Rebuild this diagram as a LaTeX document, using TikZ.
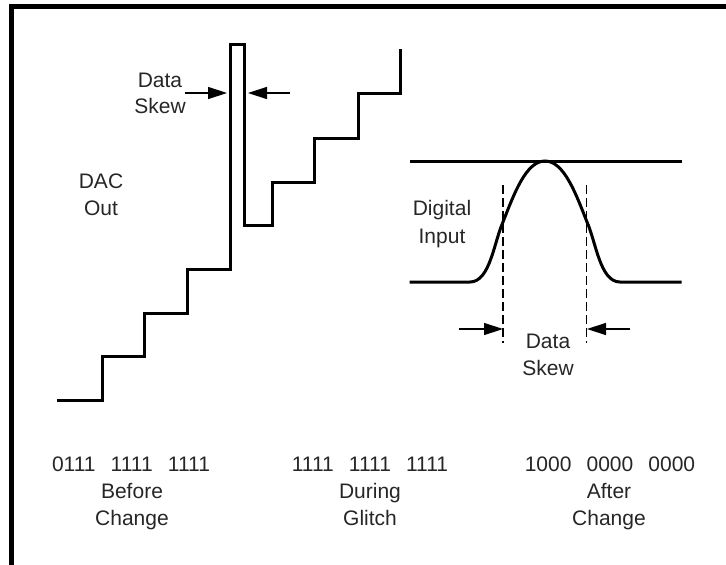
\documentclass[tikz,border=0pt]{standalone}
\usepackage{fontspec}
\setmainfont{Liberation Sans}
\usetikzlibrary{arrows.meta}
\begin{document}
\begin{tikzpicture}[x=1pt,y=-1pt,
  lbl/.style={font=\fontsize{21}{24}\selectfont, inner sep=0pt, anchor=base, text=black!85},
  wave/.style={line width=3pt, line join=miter, line cap=rect},
  frame/.style={line width=4.5pt},
  skewarrow/.style={line width=1.4pt, -{Triangle[length=19pt,width=12pt]}},
  guide/.style={line width=1.2pt, dash pattern=on 9pt off 4pt}]
\useasboundingbox (0,0) rectangle (726,565);
% frame
\draw[frame] (11.5,565) -- (11.5,6.5) -- (726,6.5);
% staircase with glitch
\draw[wave] (58,400) -- (102,400) -- (102,356) -- (144,356) -- (144,313)
  -- (187,313) -- (187,269) -- (230,269) -- (230,44) -- (244,44) -- (244,225)
  -- (272,225) -- (272,182) -- (314,182) -- (314,138) -- (358,138) -- (358,93)
  -- (400,93) -- (400,50);
% top data skew
\coordinate (a1s) at (185,93); \coordinate (a1e) at (227,93);
\coordinate (a2s) at (290,93); \coordinate (a2e) at (248,93);
\draw[skewarrow] (a1s) -- (a1e);
\draw[skewarrow] (a2s) -- (a2e);
\node[lbl] (d1) at (160,87) {Data};
\node[lbl] (s1) at (160,113) {Skew};
\node[lbl] (dac) at (101,188) {DAC};
\node[lbl] (out) at (101,215) {Out};
% digital input
\draw[wave] (411,161) -- (680,161);
\draw[wave] (411,282) -- (470,282)
  .. controls (490,282) and (494,242) .. (503,222)
  .. controls (514,194) and (526,161) .. (545,161)
  .. controls (564,161) and (576,194) .. (587,222)
  .. controls (596,242) and (600,282) .. (620,282) -- (680,282);
\draw[guide] (503,185) -- (503,343);
\draw[guide] (586.5,185) -- (586.5,343);
\coordinate (b1s) at (459,329); \coordinate (b1e) at (503,329);
\coordinate (b2s) at (630,329); \coordinate (b2e) at (587,329);
\draw[skewarrow] (b1s) -- (b1e);
\draw[skewarrow] (b2s) -- (b2e);
\node[lbl] (dig) at (442,215) {Digital};
\node[lbl] (inp) at (442,243) {Input};
\node[lbl] (d2) at (548,348) {Data};
\node[lbl] (s2) at (548,375) {Skew};
% codes
\node[lbl] (c1) at (131,471) {0111\hspace{0.72em}1111\hspace{0.72em}1111};
\node[lbl] (c1a) at (132,498) {Before};
\node[lbl] (c1b) at (132,525) {Change};
\node[lbl] (c2) at (370,471) {1111\hspace{0.72em}1111\hspace{0.72em}1111};
\node[lbl] (c2a) at (370,498) {During};
\node[lbl] (c2b) at (370,525) {Glitch};
\node[lbl] (c3) at (610,471) {1000\hspace{0.72em}0000\hspace{0.72em}0000};
\node[lbl] (c3a) at (609,498) {After};
\node[lbl] (c3b) at (609,525) {Change};
\end{tikzpicture}
\end{document}
